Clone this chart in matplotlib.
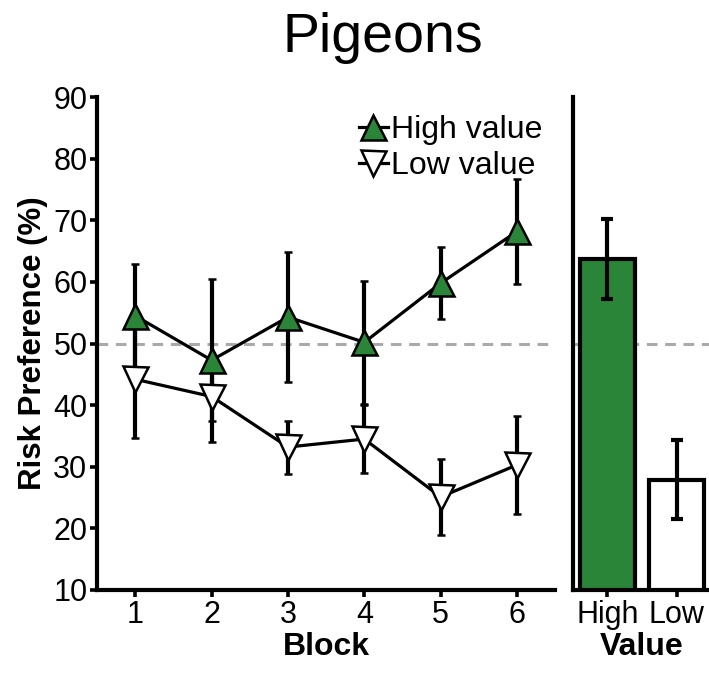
import matplotlib.pyplot as plt
from matplotlib.lines import Line2D

plt.rcParams['font.family'] = ['Liberation Sans', 'DejaVu Sans']

blocks = [1, 2, 3, 4, 5, 6]
high_mean = [54.5, 47.3, 54.3, 50.2, 59.8, 68.2]
high_err = [8.5, 13.2, 10.6, 10.0, 5.8, 8.5]
low_mean = [44.2, 41.4, 33.2, 34.5, 25.1, 30.3]
low_err = [9.6, 4.0, 4.3, 5.5, 6.1, 8.0]

value_labels = ['High', 'Low']
value_mean = [63.8, 27.9]
value_err = [6.5, 6.4]

GREEN = '#2b8538'

fig = plt.figure(figsize=(7.09, 6.75), dpi=100)
ax = fig.add_axes([0.137, 0.126, 0.646, 0.730])
axb = fig.add_axes([0.808, 0.126, 0.195, 0.730])

for a in (ax, axb):
    a.set_ylim(10, 90)
    for s in ('top', 'right'):
        a.spines[s].set_visible(False)
    for s in ('left', 'bottom'):
        a.spines[s].set_linewidth(3)
    a.tick_params(width=2.6, length=5, labelsize=22, direction='out', pad=2)
    a.axhline(50, color='#aaaaaa', lw=2.2, ls=(0, (3.5, 2.5)), zorder=0)

# block-by-block lines
line_kw = dict(color='black', lw=2.3, elinewidth=3, capsize=3, capthick=3,
               markersize=18, markeredgecolor='black', markeredgewidth=1.8,
               zorder=3)
ax.errorbar(blocks, high_mean, yerr=high_err, marker='^',
            markerfacecolor=GREEN, **line_kw)
ax.errorbar(blocks, low_mean, yerr=low_err, marker='v',
            markerfacecolor='white', **line_kw)

ax.set_xlim(0.5, 6.5)
ax.set_xticks(blocks)
ax.set_yticks(range(10, 91, 10))
ax.set_xlabel('Block', fontsize=23, fontweight='bold', labelpad=2)
ax.set_ylabel('Risk Preference (%)', fontsize=22.5, fontweight='bold', labelpad=4)

handles = [
    Line2D([], [], color='black', lw=2.3, marker='^', markersize=18,
           markerfacecolor=GREEN, markeredgecolor='black', markeredgewidth=1.8),
    Line2D([], [], color='black', lw=2.3, marker='v', markersize=18,
           markerfacecolor='white', markeredgecolor='black', markeredgewidth=1.8),
]
ax.legend(handles, ['High value', 'Low value'], loc='upper right',
          bbox_to_anchor=(1.0, 0.99), frameon=False, fontsize=23,
          handlelength=0.9, handletextpad=0.1, labelspacing=0.2,
          borderaxespad=0.0)

# overall means by value
axb.bar([0, 1], value_mean, width=0.8, color=[GREEN, 'white'],
        edgecolor='black', linewidth=3, zorder=2)
axb.errorbar([0, 1], value_mean, yerr=value_err, fmt='none', ecolor='black',
             elinewidth=3, capsize=4.5, capthick=3, zorder=3)
axb.set_xlim(-0.5, 1.5)
axb.set_xticks([0, 1])
axb.set_xticklabels(value_labels)
axb.set_yticks([])
axb.set_xlabel('Value', fontsize=23, fontweight='bold', labelpad=2)

fig.text(0.54, 0.923, 'Pigeons', fontsize=40, ha='center', va='baseline')

fig.savefig('out.png', dpi=100)
